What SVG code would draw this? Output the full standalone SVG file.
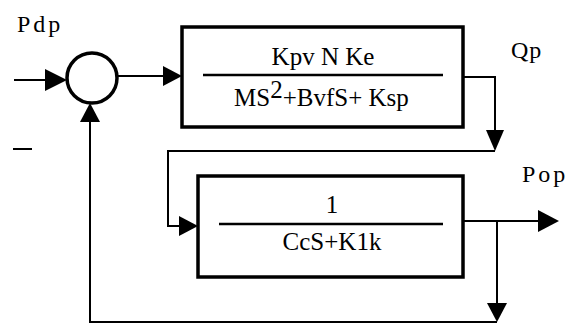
<svg xmlns="http://www.w3.org/2000/svg" width="580" height="325" viewBox="0 0 580 325">
<style>
text{font-family:'Liberation Serif','DejaVu Serif',serif;fill:#000}
.t{font-size:25px}
.lbl{font-size:24px;letter-spacing:3px}
.box{fill:none;stroke:#000;stroke-width:3.5}
.ln{fill:none;stroke:#000;stroke-width:2}
.ah{fill:#000;stroke:none}
</style>
<rect width="580" height="325" fill="#fff"/>
<g id="sum">
<circle cx="92" cy="78" r="25" fill="none" stroke="#000" stroke-width="3.5"/>
</g>
<g id="block1">
<rect class="box" x="182" y="27" width="281" height="100"/>
<line x1="203" y1="75" x2="443" y2="75" stroke="#000" stroke-width="2.5"/>
<text class="t" x="323" y="65" text-anchor="middle" font-family="Liberation Serif, serif">Kpv N Ke</text>
<text class="t" x="234" y="106" font-family="Liberation Serif, serif">MS<tspan dy="-8">2</tspan><tspan dy="8">+BvfS+ Ksp</tspan></text>
</g>
<g id="block2">
<rect class="box" x="198" y="176" width="265" height="101"/>
<line x1="219" y1="224" x2="443" y2="224" stroke="#000" stroke-width="2.5"/>
<text class="t" x="332" y="213" text-anchor="middle" font-family="Liberation Serif, serif">1</text>
<text class="t" x="332" y="250" text-anchor="middle" font-family="Liberation Serif, serif">CcS+K1k</text>
</g>
<g id="labels">
<text class="lbl" x="17" y="32" font-family="Liberation Serif, serif">Pdp</text>
<text class="lbl" x="511" y="58" style="letter-spacing:1px" font-family="Liberation Serif, serif">Qp</text>
<text class="lbl" x="522" y="182" font-family="Liberation Serif, serif">Pop</text>
<line x1="13" y1="149" x2="32" y2="149" stroke="#000" stroke-width="2"/>
</g>
<g id="connectors">
<line class="ln" x1="14" y1="80" x2="50" y2="80"/>
<polygon class="ah" points="45,69 67,80 45,91"/>
<line class="ln" x1="117" y1="76" x2="165" y2="76"/>
<polygon class="ah" points="163,66 182,76 163,86"/>
<polyline class="ln" points="463,77 495,77 495,132"/>
<polygon class="ah" points="486,130 504,130 495,151"/>
<polyline class="ln" points="495,151 168,151 168,226 182,226"/>
<polygon class="ah" points="179,216 198,226 179,236"/>
<line class="ln" x1="463" y1="221" x2="540" y2="221"/>
<polygon class="ah" points="538,210 559,221 538,232"/>
<line class="ln" x1="497" y1="221" x2="497" y2="305"/>
<polygon class="ah" points="487,303 507,303 497,322"/>
<polyline class="ln" points="497,322 90,322 90,120"/>
<polygon class="ah" points="80,122 100,122 90,103"/>
</g>
</svg>
